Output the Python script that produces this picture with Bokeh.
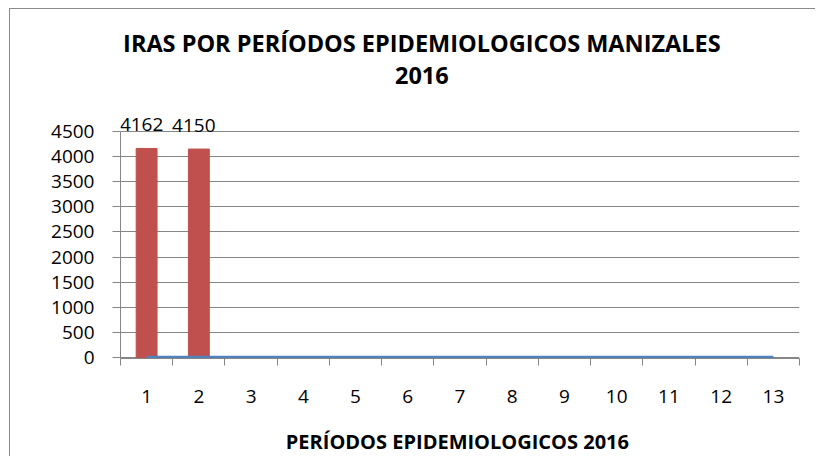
from bokeh.plotting import figure
from bokeh.models import FixedTicker, Label, LabelSet, ColumnDataSource, Range1d
from bokeh.core.properties import value
from bokeh.embed import file_html
from bokeh.resources import INLINE

# ---- data ----
periods = [1, 2, 3, 4, 5, 6, 7, 8, 9, 10, 11, 12, 13]
iras_periods = [1, 2]
iras_cases = [4162, 4150]
iras_labels = ["4162", "4150"]
line_series = [0, 0, 0, 0, 0, 0, 0, 0, 0, 0, 0, 0, 0]
y_ticks = [0, 500, 1000, 1500, 2000, 2500, 3000, 3500, 4000, 4500]
period_bounds = [0.5, 1.5, 2.5, 3.5, 4.5, 5.5, 6.5, 7.5, 8.5, 9.5, 10.5, 11.5, 12.5, 13.5]

title_line1 = "IRAS POR PERÍODOS EPIDEMIOLOGICOS MANIZALES"
title_line2 = "2016"
x_title = "PERÍODOS EPIDEMIOLOGICOS  2016"

FONT = "Open Sans"
GRID = "#868686"
RED = "#C0504D"
BLUE = "#4F81BD"

# frame spans the full height above the x axis; the value axis is bounded to 0..4500
p = figure(width=806, height=448, output_backend="svg", toolbar_location=None,
           x_range=Range1d(0.5, 13.5), y_range=Range1d(-20, 6929),
           min_border_left=110, min_border_right=17,
           min_border_top=0, min_border_bottom=99)
p.outline_line_color = None
p.background_fill_color = "white"
p.border_fill_color = "white"
p.styles = {"border-top": "1px solid #8a8a8a", "border-left": "1px solid #8a8a8a",
            "margin-left": "9px", "margin-top": "8px"}

# grids
p.xgrid.visible = False
p.ygrid.grid_line_color = GRID
p.ygrid.grid_line_width = 1
p.ygrid.bounds = (0, 4500)

# y axis
p.yaxis.ticker = FixedTicker(ticks=y_ticks)
p.yaxis.bounds = (-20, 4500)
p.yaxis.axis_line_color = GRID
p.yaxis.major_tick_line_color = GRID
p.yaxis.major_tick_out = 8
p.yaxis.major_tick_in = 0
p.yaxis.minor_tick_line_color = None
p.yaxis.major_label_standoff = 18
p.yaxis.major_label_text_font = FONT
p.yaxis.major_label_text_font_size = "19px"
p.yaxis.major_label_text_color = "black"

# x axis
p.xaxis.ticker = FixedTicker(ticks=periods, minor_ticks=period_bounds)
p.xaxis.axis_line_color = GRID
p.xaxis.major_tick_line_color = None
p.xaxis.major_tick_out = 0
p.xaxis.major_tick_in = 0
p.xaxis.minor_tick_line_color = GRID
p.xaxis.minor_tick_out = 7
p.xaxis.minor_tick_in = 0
p.xaxis.major_label_standoff = 24
p.xaxis.major_label_text_font = FONT
p.xaxis.major_label_text_font_size = "19px"
p.xaxis.major_label_text_color = "black"
p.xaxis.axis_label = x_title
p.xaxis.axis_label_text_font = FONT
p.xaxis.axis_label_text_font_style = "bold"
p.xaxis.axis_label_text_font_size = "20px"
p.xaxis.axis_label_standoff = 22
p.xaxis.axis_label_text_color = "black"

# bars
bar_src = ColumnDataSource(dict(x=iras_periods, top=iras_cases, lbl=iras_labels))
p.vbar(x="x", top="top", width=0.4, source=bar_src, fill_color=RED, line_color=RED)

# line series
line_src = ColumnDataSource(dict(x=periods, y=line_series))
p.line(x="x", y="y", source=line_src, line_color=BLUE, line_width=3.5)

# data labels
labels = LabelSet(x="x", y="top", text="lbl", source=bar_src,
                  text_align="center", text_baseline="bottom",
                  x_offset=-5, y_offset=17,
                  text_font=value(FONT), text_font_size="19px", text_color="black")
p.add_layout(labels)

# title (two lines)
p.add_layout(Label(x=6.27, y=6262, text=title_line1, text_align="center",
                   text_baseline="middle", text_font=FONT,
                   text_font_style="bold", text_font_size="23.5px", text_color="black"))
p.add_layout(Label(x=6.27, y=5605, text=title_line2, text_align="center",
                   text_baseline="middle", text_font=FONT,
                   text_font_style="bold", text_font_size="23.5px", text_color="black"))

open("out.html", "w").write(file_html(p, INLINE))
